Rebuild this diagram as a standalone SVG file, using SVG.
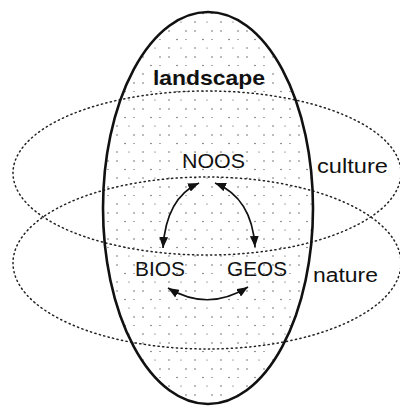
<svg xmlns="http://www.w3.org/2000/svg" width="400" height="407" viewBox="0 0 400 407">
  <defs>
    <pattern id="stipple" patternUnits="userSpaceOnUse" x="3" y="4" width="26" height="26">
      <g fill="#444">
        <circle cx="1" cy="1" r="0.7"/>
        <circle cx="10" cy="1" r="0.7"/>
        <circle cx="18" cy="9.5" r="0.7"/>
        <circle cx="1" cy="9.5" r="0.6"/>
        <circle cx="10" cy="18" r="0.7"/>
        <circle cx="22" cy="18" r="0.6"/>
      </g>
    </pattern>
    <marker id="arrow" viewBox="0 0 10 8" refX="10" refY="4" markerWidth="11" markerHeight="9" markerUnits="userSpaceOnUse" orient="auto-start-reverse">
      <path d="M0,0 L10,4 L0,8 z" fill="#111"/>
    </marker>
    <style>
      .dotted { fill: none; stroke: #222; stroke-width: 1.5; stroke-dasharray: 1.2 3.4; stroke-linecap: round; }
      .label { font-family: "Liberation Sans", Arial, sans-serif; font-size: 20px; fill: #111; }
      .big { font-size: 21px; }
      .conn { fill: none; stroke: #111; stroke-width: 1.7; marker-start: url(#arrow); marker-end: url(#arrow); }
    </style>
  </defs>
  <rect width="400" height="407" fill="#fff"/>

  <g id="landscape">
    <ellipse cx="208" cy="208" rx="105" ry="196" fill="url(#stipple)" stroke="none"/>
  </g>

  <g id="culture">
    <ellipse class="dotted" cx="207" cy="173" rx="194" ry="82"/>
    <text class="label" x="317" y="173" textLength="71" lengthAdjust="spacingAndGlyphs">culture</text>
  </g>

  <g id="nature">
    <ellipse class="dotted" cx="207" cy="263" rx="194" ry="86"/>
    <text class="label" x="313" y="282" textLength="65" lengthAdjust="spacingAndGlyphs">nature</text>
  </g>

  <g id="landscape-outline">
    <ellipse cx="208" cy="208" rx="105" ry="196" fill="none" stroke="#111" stroke-width="2.6"/>
    <text class="label big" x="209" y="85" text-anchor="middle" font-weight="bold" textLength="112" lengthAdjust="spacingAndGlyphs">landscape</text>
  </g>

  <g id="noos">
    <text class="label big" x="213.5" y="168" text-anchor="middle" textLength="63" lengthAdjust="spacingAndGlyphs">NOOS</text>
  </g>
  <g id="bios">
    <text class="label big" x="160" y="276" text-anchor="middle" textLength="50" lengthAdjust="spacingAndGlyphs">BIOS</text>
  </g>
  <g id="geos">
    <text class="label big" x="257" y="276" text-anchor="middle" textLength="60" lengthAdjust="spacingAndGlyphs">GEOS</text>
  </g>

  <g id="connectors">
    <path class="conn" d="M199,183 Q166,198 163,248"/>
    <path class="conn" d="M215,183 Q252,198 255,247"/>
    <path class="conn" d="M168,288 Q208,312 248,287"/>
  </g>
</svg>
